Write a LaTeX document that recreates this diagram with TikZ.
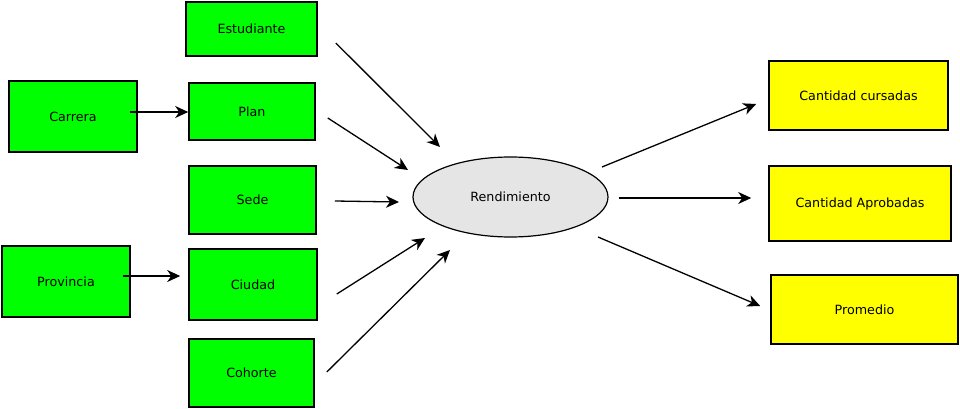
\documentclass[tikz,border=0pt]{standalone}
\usepackage{fontspec}
\setmainfont{DejaVu Sans}
\usetikzlibrary{shapes.geometric, arrows.meta, calc}

\definecolor{verde}{RGB}{0,255,0}
\definecolor{amarillo}{RGB}{255,255,0}
\definecolor{gris}{RGB}{229,229,229}

\tikzstyle{caja} = [draw, line width=1.6pt, inner sep=0pt, align=center, font=\fontsize{12.7}{15}\selectfont]
\tikzstyle{entrada} = [caja, fill=verde]
\tikzstyle{salida} = [caja, fill=amarillo]
\tikzstyle{central} = [ellipse, draw, line width=1.2pt, fill=gris, inner sep=0pt, font=\fontsize{12.7}{15}\selectfont]
\tikzstyle{flecha} = [-{Stealth[length=13pt, width=12pt, inset=4pt]}, line width=1.3pt]

\begin{document}
\begin{tikzpicture}[x=1pt, y=-1pt]
\useasboundingbox (0,0) rectangle (960,409);
\node[entrada, minimum width=131pt, minimum height=54pt] (estudiante) at (251.5,29) {Estudiante};
\node[entrada, minimum width=126pt, minimum height=57pt] (plan) at (252,111.5) {Plan};
\node[entrada, minimum width=127pt, minimum height=68pt] (sede) at (252.5,200) {Sede};
\node[entrada, minimum width=128pt, minimum height=71pt] (ciudad) at (253,284.5) {Ciudad};
\node[entrada, minimum width=125pt, minimum height=68pt] (cohorte) at (251.5,373) {Cohorte};
\node[entrada, minimum width=128pt, minimum height=71pt] (carrera) at (73,116.5) {Carrera};
\node[entrada, minimum width=128pt, minimum height=71pt] (provincia) at (66,281.5) {Provincia};
\node[central, minimum width=195pt, minimum height=80pt] (rendimiento) at (510.5,197) {Rendimiento};
\node[salida, minimum width=179pt, minimum height=69pt] (cursadas) at (858.5,95.5) {Cantidad cursadas};
\node[salida, minimum width=182pt, minimum height=75pt] (aprobadas) at (860,203.5) {Cantidad Aprobadas};
\node[salida, minimum width=187pt, minimum height=69pt] (promedio) at (864.5,309.5) {Promedio};

\draw[flecha] ($(carrera.east)+(-8,-4.5)$) -- ($(plan.west)+(0,0.5)$);
\draw[flecha] ($(provincia.east)+(-8,-5.5)$) -- ($(ciudad.west)+(-8,-8.5)$);
\draw[flecha] ($(estudiante.east)+(18,14)$) -- ($(rendimiento)+(-70.5,-50)$);
\draw[flecha] ($(plan.east)+(12,6.5)$) -- ($(rendimiento)+(-102.5,-27)$);
\draw[flecha] ($(sede.east)+(18,1)$) -- ($(rendimiento)+(-111.5,5)$);
\draw[flecha] ($(ciudad.east)+(19,9.5)$) -- ($(rendimiento)+(-85.5,41)$);
\draw[flecha] ($(cohorte.east)+(12,-1)$) -- ($(rendimiento)+(-60.5,53)$);
\draw[flecha] ($(rendimiento)+(91.5,-30)$) -- ($(cursadas.west)+(-12,8.5)$);
\draw[flecha] ($(rendimiento.east)+(10,1)$) -- ($(aprobadas.west)+(-17,-5.5)$);
\draw[flecha] ($(rendimiento)+(87.5,40)$) -- ($(promedio.west)+(-10,-3.5)$);
\end{tikzpicture}
\end{document}
